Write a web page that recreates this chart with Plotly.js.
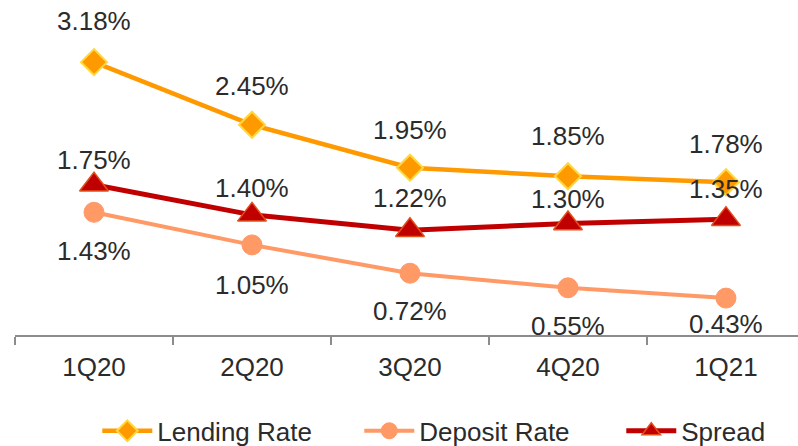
<!DOCTYPE html>
<html>
<head>
<meta charset="utf-8">
<script src="https://cdn.plot.ly/plotly-3.0.1.min.js"></script>
<style>html,body{margin:0;padding:0;background:#fff;}#chart{width:798px;height:446px;}</style>
</head>
<body>
<div id="chart"></div>
<script>
const categories = ["1Q20", "2Q20", "3Q20", "4Q20", "1Q21"];
const lendingRate = [3.18, 2.45, 1.95, 1.85, 1.78];
const depositRate = [1.43, 1.05, 0.72, 0.55, 0.43];
const spread = [1.75, 1.40, 1.22, 1.30, 1.35];
const seriesNames = ["Lending Rate", "Deposit Rate", "Spread"];

// label vertical offsets (px) relative to each point
const lendingShift = [41, 39, 38, 40, 38];
const spreadShift = [25, 27, 32, 24, 30];
const depositShift = [-39, -40, -38, -38, -26];

const FONT = "Liberation Sans, Arial, sans-serif";
const TXT = "#2b2b2b";

const traces = [
  {
    x: categories, y: lendingRate, name: seriesNames[0], type: "scatter", mode: "lines+markers",
    line: {color: "#FF9900", width: 4.5},
    marker: {symbol: "diamond", size: 20, color: "#FF9900", line: {color: "#FFD740", width: 2}},
    cliponaxis: false
  },
  {
    x: categories, y: depositRate, name: seriesNames[1], type: "scatter", mode: "lines+markers",
    line: {color: "#FF9966", width: 4},
    marker: {symbol: "circle", size: 20, color: "#FF9966", line: {color: "#FF9966", width: 1}},
    cliponaxis: false
  },
  {
    x: categories, y: spread, name: seriesNames[2], type: "scatter", mode: "lines+markers",
    line: {color: "#C00000", width: 5},
    marker: {symbol: "triangle-up", size: 25, color: "#C00000", line: {color: "#E0501A", width: 1.5}},
    cliponaxis: false
  }
];

const annotations = [];
function addLabels(vals, shifts) {
  vals.forEach((v, i) => {
    annotations.push({
      x: categories[i], y: v, xref: "x", yref: "y",
      text: v.toFixed(2) + "%", showarrow: false,
      yshift: shifts[i], xanchor: "center", yanchor: "middle",
      font: {family: FONT, size: 26, color: TXT}
    });
  });
}
addLabels(lendingRate, lendingShift);
addLabels(spread, spreadShift);
addLabels(depositRate, depositShift);

const layout = {
  width: 798, height: 446,
  margin: {l: 15, r: 0, t: 0, b: 111, pad: 0, autoexpand: false},
  paper_bgcolor: "#ffffff", plot_bgcolor: "#ffffff",
  font: {family: FONT, size: 26, color: TXT},
  showlegend: true,
  legend: {
    orientation: "h", x: 0.607, xanchor: "center",
    yref: "container", y: 0.034, yanchor: "middle",
    font: {family: FONT, size: 26, color: TXT},
    entrywidth: 197, entrywidthmode: "pixels", itemwidth: 50,
    traceorder: "normal", bgcolor: "rgba(0,0,0,0)"
  },
  xaxis: {
    type: "category", range: [-0.5, 4.456], tickson: "boundaries",
    showgrid: false, zeroline: false, showline: true, linecolor: "#8c8c8c", linewidth: 1.5,
    ticks: "outside", ticklen: 8, tickcolor: "#8c8c8c", tickwidth: 1.5,
    ticklabelstandoff: 8,
    tickfont: {family: FONT, size: 26, color: TXT}, fixedrange: true
  },
  yaxis: {
    range: [0, 3.904], visible: false, showgrid: false, zeroline: false, fixedrange: true
  },
  annotations: annotations
};

Plotly.newPlot("chart", traces, layout, {displayModeBar: false, staticPlot: true});
</script>
</body>
</html>
